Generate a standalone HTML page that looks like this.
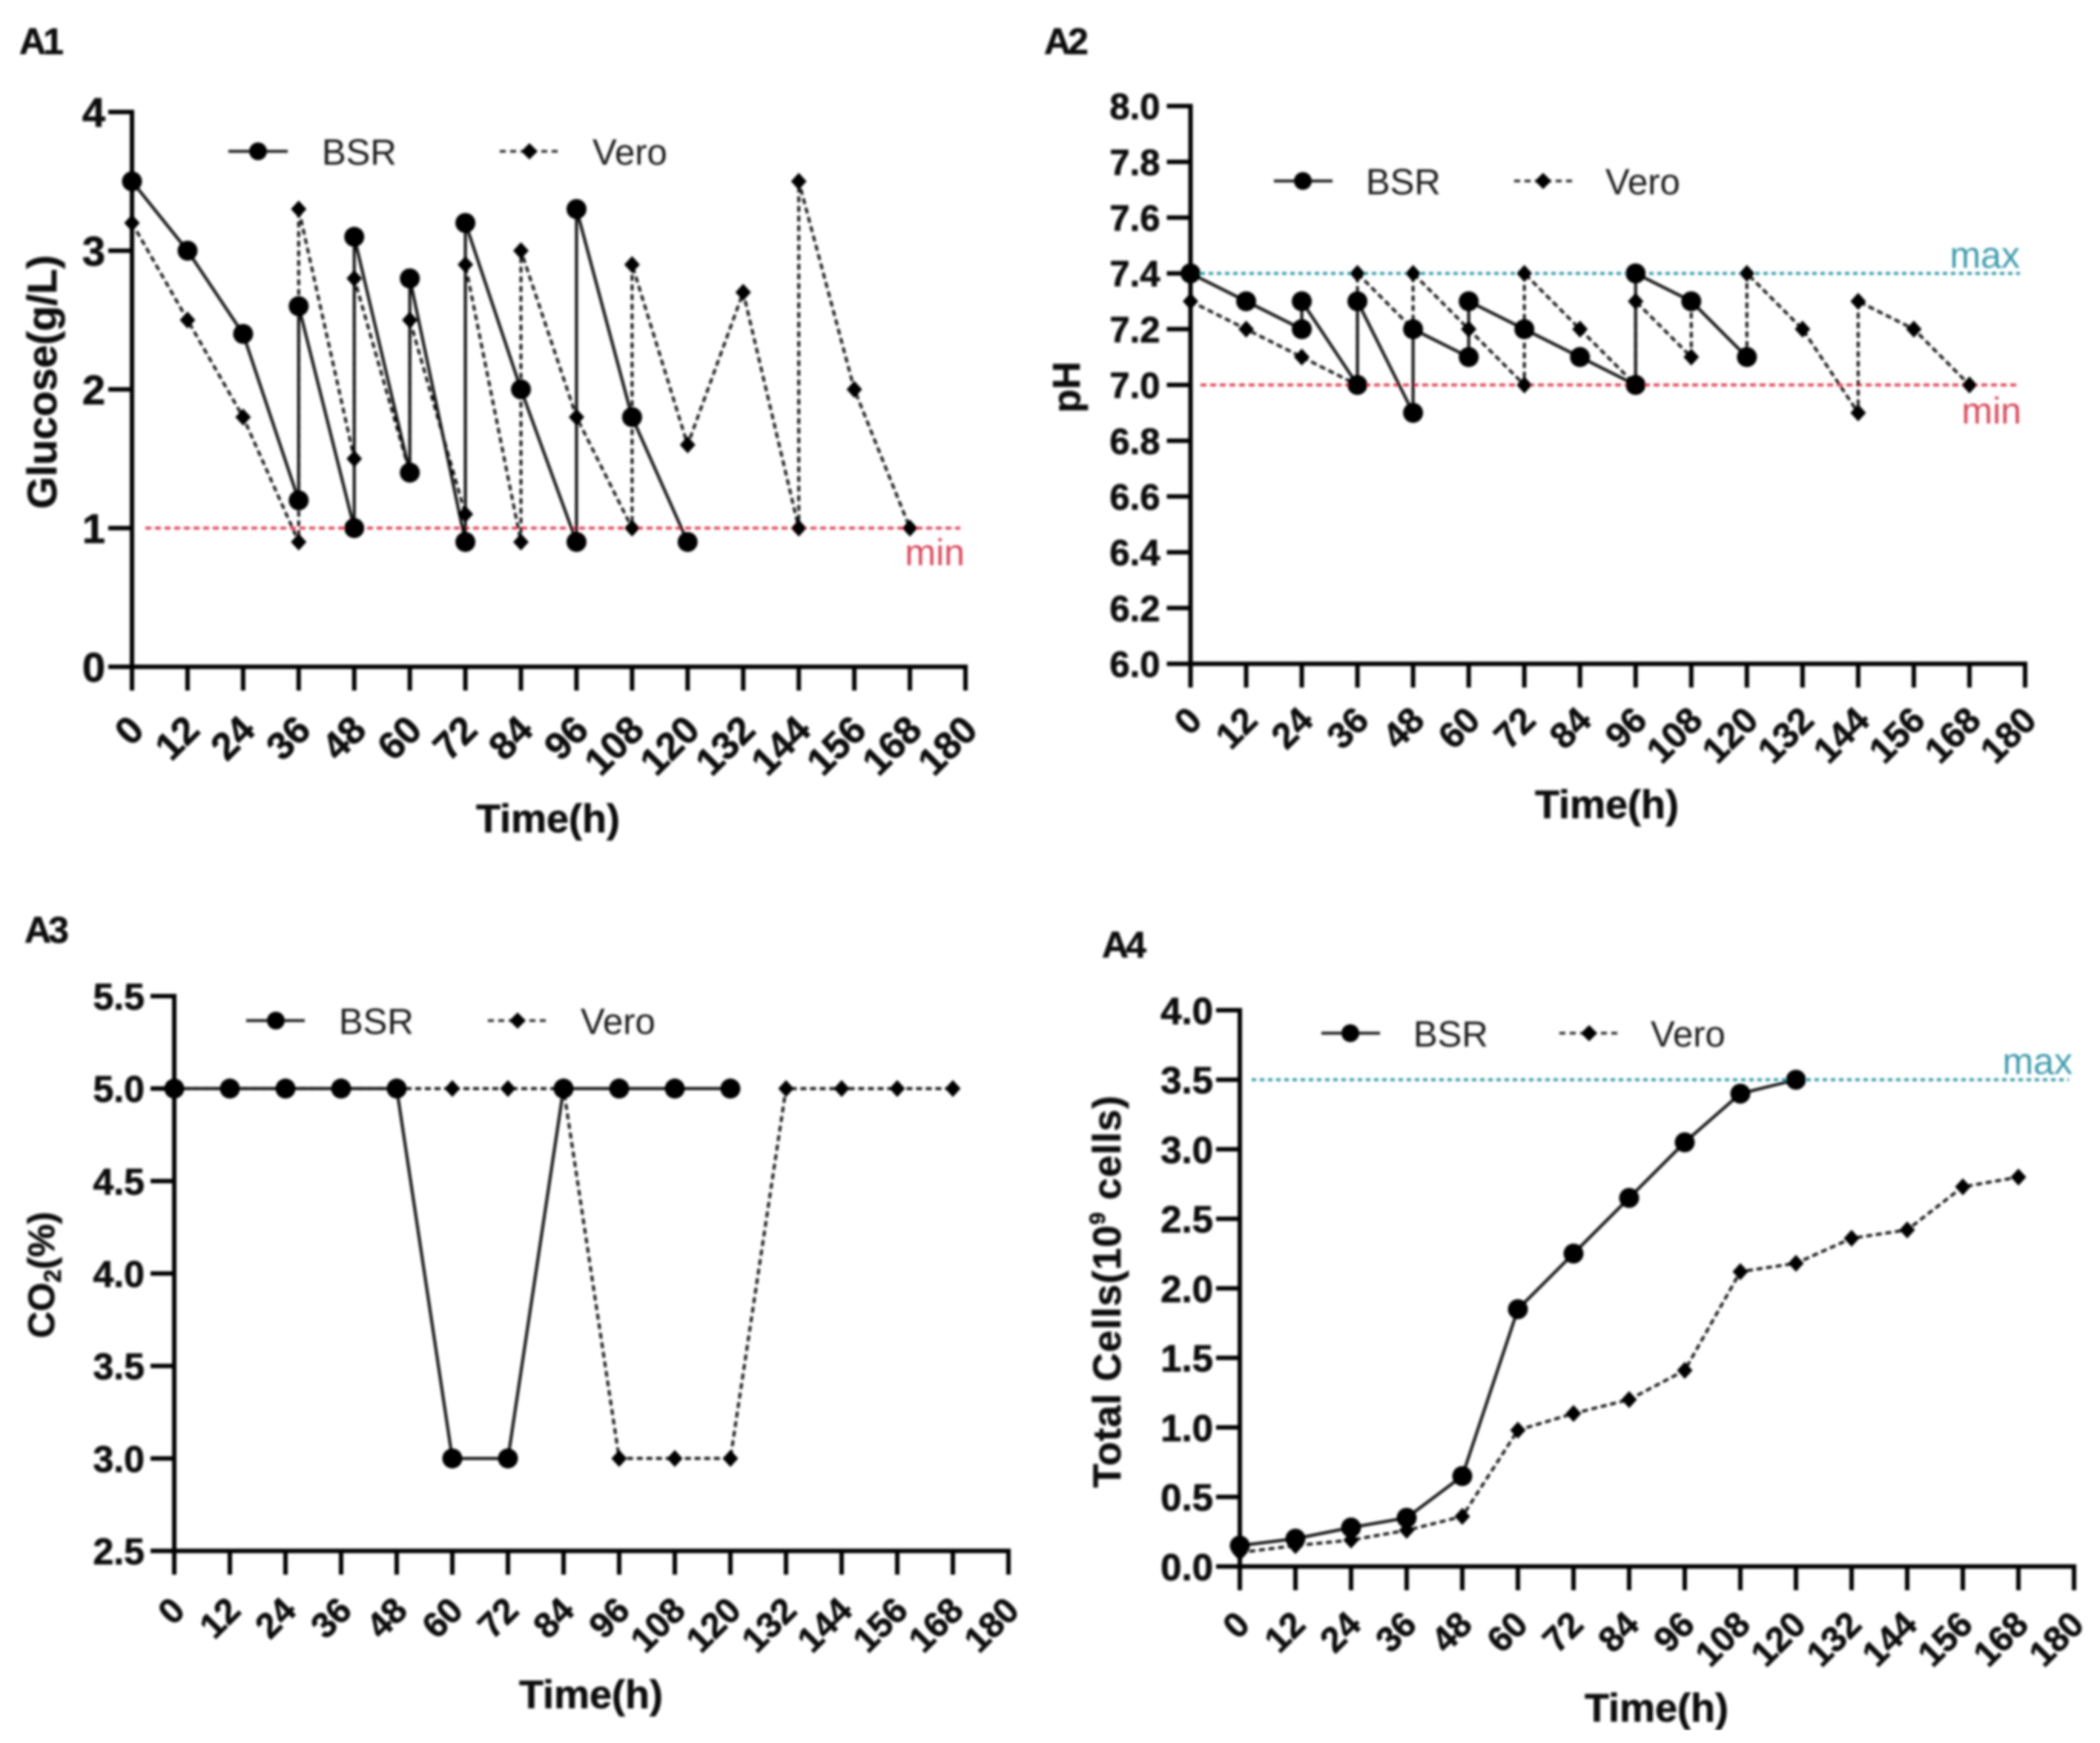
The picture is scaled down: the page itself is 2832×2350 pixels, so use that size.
<!DOCTYPE html>
<html lang="en">
<head>
<meta charset="utf-8">
<title>Bioreactor time-course panels</title>
<style>
html,body{margin:0;padding:0;background:#fff;}
svg{display:block;font-family:"Liberation Sans",Arial,sans-serif;}
.panel-label{font-weight:700;font-size:50px;letter-spacing:-4px;fill:#111;stroke:#111;stroke-width:.6px;}
.axis-title{font-weight:700;fill:#111;stroke:#111;stroke-width:.6px;}
.legend-text{font-size:49px;fill:#1c1c1c;}
.note{font-size:50px;}
</style>
</head>
<body>
<svg id="figure" width="2832" height="2350" viewBox="0 0 2832 2350" xmlns="http://www.w3.org/2000/svg">
<defs><filter id="soft" x="0" y="0" width="100%" height="100%"><feGaussianBlur stdDeviation="1.5"/></filter></defs>
<rect width="2832" height="2350" fill="#fff"/>
<g filter="url(#soft)">
<g id="static">
  <text class="panel-label" x="26" y="73">A1</text>
  <text class="panel-label" x="1408" y="73">A2</text>
  <text class="panel-label" x="33" y="1271">A3</text>
  <text class="panel-label" x="1486" y="1291">A4</text>

  <text class="axis-title" font-size="56" text-anchor="middle" transform="translate(76,515) rotate(-90)">Glucose(g/L)</text>
  <text class="axis-title" font-size="52" text-anchor="middle" transform="translate(1456,522) rotate(-90)">pH</text>
  <text class="axis-title" font-size="50" text-anchor="middle" transform="translate(73,1719) rotate(-90)">CO<tspan font-size="32" dy="9">2</tspan><tspan dy="-9">(%)</tspan></text>
  <text class="axis-title" font-size="53" letter-spacing="1" text-anchor="middle" transform="translate(1511,1741) rotate(-90)">Total Cells(10<tspan font-size="30" dy="-21">9</tspan><tspan dy="21"> cells)</tspan></text>

  <text class="axis-title" font-size="54" text-anchor="middle" x="739" y="1122">Time(h)</text>
  <text class="axis-title" font-size="54" text-anchor="middle" x="2167" y="1103">Time(h)</text>
  <text class="axis-title" font-size="54" text-anchor="middle" x="797" y="2303">Time(h)</text>
  <text class="axis-title" font-size="54" text-anchor="middle" x="2234" y="2321">Time(h)</text>

  <text class="note" fill="#d8485c" text-anchor="end" x="1301" y="762">min</text>
  <text class="note" fill="#3f9bac" text-anchor="end" x="2724" y="361">max</text>
  <text class="note" fill="#d8485c" text-anchor="end" x="2726" y="571">min</text>
  <text class="note" fill="#3f9bac" text-anchor="end" x="2795" y="1448">max</text>

  <g>
    <line x1="308" x2="388" y1="204" y2="204" stroke="#222" stroke-width="4"/>
    <circle cx="348" cy="204" r="12" fill="#000"/>
    <text class="legend-text" x="434" y="222">BSR</text>
    <line x1="674" x2="755" y1="204" y2="204" stroke="#222" stroke-width="3.5" stroke-dasharray="8 6"/>
    <path d="M714 193 L725 204 L714 215 L703 204 Z" fill="#000"/>
    <text class="legend-text" x="799" y="222">Vero</text>
  </g>
  <g>
    <line x1="1718" x2="1797" y1="244" y2="244" stroke="#222" stroke-width="4"/>
    <circle cx="1757" cy="244" r="12" fill="#000"/>
    <text class="legend-text" x="1842" y="262">BSR</text>
    <line x1="2042" x2="2121" y1="244" y2="244" stroke="#222" stroke-width="3.5" stroke-dasharray="8 6"/>
    <path d="M2081 233 L2092 244 L2081 255 L2070 244 Z" fill="#000"/>
    <text class="legend-text" x="2165" y="262">Vero</text>
  </g>
  <g>
    <line x1="332" x2="411" y1="1376" y2="1376" stroke="#222" stroke-width="4"/>
    <circle cx="372" cy="1376" r="12" fill="#000"/>
    <text class="legend-text" x="457" y="1394">BSR</text>
    <line x1="658" x2="739" y1="1376" y2="1376" stroke="#222" stroke-width="3.5" stroke-dasharray="8 6"/>
    <path d="M698 1365 L709 1376 L698 1387 L687 1376 Z" fill="#000"/>
    <text class="legend-text" x="783" y="1394">Vero</text>
  </g>
  <g>
    <line x1="1782" x2="1861" y1="1393" y2="1393" stroke="#222" stroke-width="4"/>
    <circle cx="1821" cy="1393" r="12" fill="#000"/>
    <text class="legend-text" x="1906" y="1411">BSR</text>
    <line x1="2103" x2="2183" y1="1393" y2="1393" stroke="#222" stroke-width="3.5" stroke-dasharray="8 6"/>
    <path d="M2143 1382 L2154 1393 L2143 1404 L2132 1393 Z" fill="#000"/>
    <text class="legend-text" x="2226" y="1411">Vero</text>
  </g>
</g>
<g id="charts"></g>
</g>
</svg>
<script>
// Shared x axis
const timeTickLabels = ['0','12','24','36','48','60','72','84','96','108','120','132','144','156','168','180'];

// A1 glucose
const a1YTickLabels = ['0','1','2','3','4'];
const a1BsrTimes = [0,12,24,36,36,48,48,60,60,72,72,84,96,96,108,120];
const a1BsrValues = [3.5,3,2.4,1.2,2.6,1,3.1,1.4,2.8,0.9,3.2,2,0.9,3.3,1.8,0.9];
const a1VeroTimes = [0,12,24,36,36,48,48,60,60,72,72,84,84,96,108,108,120,132,144,144,156,168];
const a1VeroValues = [3.2,2.5,1.8,0.9,3.3,1.5,2.8,1.4,2.5,1.1,2.9,0.9,3,1.8,1,2.9,1.6,2.7,1,3.5,2,1];
const a1MinLine = [1];
const a1MaxLine = [];

// A2 pH
const a2YTickLabels = ['6.0','6.2','6.4','6.6','6.8','7.0','7.2','7.4','7.6','7.8','8.0'];
const a2BsrTimes = [0,12,24,24,36,36,48,48,60,60,72,84,96,96,108,120];
const a2BsrValues = [7.4,7.3,7.2,7.3,7.0,7.3,6.9,7.2,7.1,7.3,7.2,7.1,7.0,7.4,7.3,7.1];
const a2VeroTimes = [0,12,24,36,36,48,48,60,72,72,84,96,96,108,108,120,120,132,144,144,156,168];
const a2VeroValues = [7.3,7.2,7.1,7.0,7.4,7.2,7.4,7.2,7.0,7.4,7.2,7.0,7.3,7.1,7.3,7.1,7.4,7.2,6.9,7.3,7.2,7.0];
const a2MinLine = [7.0];
const a2MaxLine = [7.4];

// A3 CO2
const a3YTickLabels = ['2.5','3.0','3.5','4.0','4.5','5.0','5.5'];
const a3BsrTimes = [0,12,24,36,48,60,72,84,96,108,120];
const a3BsrValues = [5,5,5,5,5,3,3,5,5,5,5];
const a3VeroTimes = [0,12,24,36,48,60,72,84,96,108,120,132,144,156,168];
const a3VeroValues = [5,5,5,5,5,5,5,5,3,3,3,5,5,5,5];
const a3MinLine = [];
const a3MaxLine = [];

// A4 total cells
const a4YTickLabels = ['0.0','0.5','1.0','1.5','2.0','2.5','3.0','3.5','4.0'];
const a4BsrTimes = [0,12,24,36,48,60,72,84,96,108,120];
const a4BsrValues = [0.15,0.2,0.28,0.35,0.65,1.85,2.25,2.65,3.05,3.4,3.5];
const a4VeroTimes = [0,12,24,36,48,60,72,84,96,108,120,132,144,156,168];
const a4VeroValues = [0.1,0.15,0.19,0.26,0.36,0.98,1.1,1.2,1.41,2.12,2.18,2.36,2.42,2.73,2.8];
const a4MinLine = [];
const a4MaxLine = [3.5];

const SVG_NS = 'http://www.w3.org/2000/svg';
const root = document.getElementById('charts');

function make(tag, parent) {
  const el = document.createElementNS(SVG_NS, tag);
  parent.appendChild(el);
  return el;
}

function drawPanel(id, box, yLabels, bsrT, bsrV, veroT, veroV, minLine, maxLine) {
  const g = make('g', root);
  
  

  const xNums = timeTickLabels.map(Number);
  const yNums = yLabels.map(Number);
  const xMin = xNums[0], xMax = xNums[xNums.length - 1];
  const yMin = yNums[0], yMax = yNums[yNums.length - 1];
  const sx = v => box.x0 + (v - xMin) / (xMax - xMin) * (box.x1 - box.x0);
  const sy = v => box.y0 - (v - yMin) / (yMax - yMin) * (box.y0 - box.y1);

  // threshold lines
  minLine.forEach(v => {
    const l = make('line', g);
    
    
    l.setAttribute('x1', box.refX0);
    l.setAttribute('x2', box.refX1);
    l.setAttribute('y1', sy(v));
    l.setAttribute('y2', sy(v));
    l.setAttribute('stroke', '#e0485f');
    l.setAttribute('stroke-width', 4);
    l.setAttribute('stroke-dasharray', '8 5');
  });
  maxLine.forEach(v => {
    const l = make('line', g);
    
    
    l.setAttribute('x1', box.refX0);
    l.setAttribute('x2', box.refX1);
    l.setAttribute('y1', sy(v));
    l.setAttribute('y2', sy(v));
    l.setAttribute('stroke', '#3a9ba8');
    l.setAttribute('stroke-width', 4);
    l.setAttribute('stroke-dasharray', '6 5');
  });

  // axes
  const yAxis = make('line', g);
  
  
  yAxis.setAttribute('x1', box.x0);
  yAxis.setAttribute('x2', box.x0);
  yAxis.setAttribute('y1', box.y1 - 3);
  yAxis.setAttribute('y2', box.y0 + 32);
  yAxis.setAttribute('stroke', '#000');
  yAxis.setAttribute('stroke-width', 6);

  const xAxis = make('line', g);
  
  
  xAxis.setAttribute('x1', box.x0 - 32);
  xAxis.setAttribute('x2', box.x1 + 3);
  xAxis.setAttribute('y1', box.y0);
  xAxis.setAttribute('y2', box.y0);
  xAxis.setAttribute('stroke', '#000');
  xAxis.setAttribute('stroke-width', 6);

  // y ticks
  yLabels.forEach((label, i) => {
    const y = sy(yNums[i]);
    const t = make('line', g);
    
    
    t.setAttribute('x1', box.x0 - 32);
    t.setAttribute('x2', box.x0);
    t.setAttribute('y1', y);
    t.setAttribute('y2', y);
    t.setAttribute('stroke', '#000');
    t.setAttribute('stroke-width', 6);

    const txt = make('text', g);
    
    
    txt.setAttribute('x', box.x0 - box.yLabelGap);
    txt.setAttribute('y', y + box.yFont * 0.36);
    txt.setAttribute('text-anchor', 'end');
    txt.setAttribute('font-size', box.yFont);
    txt.setAttribute('font-weight', '700');
    txt.setAttribute('fill', '#111');
    txt.setAttribute('stroke', '#111');
    txt.setAttribute('stroke-width', 0.7);
    txt.textContent = label;
  });

  // x ticks
  timeTickLabels.forEach((label, i) => {
    const x = sx(xNums[i]);
    const t = make('line', g);
    
    
    t.setAttribute('x1', x);
    t.setAttribute('x2', x);
    t.setAttribute('y1', box.y0);
    t.setAttribute('y2', box.y0 + 32);
    t.setAttribute('stroke', '#000');
    t.setAttribute('stroke-width', 6);

    const txt = make('text', g);
    
    
    txt.setAttribute('text-anchor', 'end');
    txt.setAttribute('font-size', box.xFont);
    txt.setAttribute('font-weight', '700');
    txt.setAttribute('fill', '#111');
    txt.setAttribute('stroke', '#111');
    txt.setAttribute('stroke-width', 0.7);
    txt.setAttribute('transform', 'translate(' + (x + box.xDx) + ',' + (box.y0 + box.xDy) + ') rotate(-45)');
    txt.textContent = label;
  });

  // Vero series
  const veroPts = veroT.map((t, i) => sx(t) + ',' + sy(veroV[i])).join(' ');
  const veroLine = make('polyline', g);
  
  
  veroLine.setAttribute('points', veroPts);
  veroLine.setAttribute('fill', 'none');
  veroLine.setAttribute('stroke', '#111');
  veroLine.setAttribute('stroke-width', 3.8);
  veroLine.setAttribute('stroke-dasharray', '8 5');

  // BSR series
  const bsrPts = bsrT.map((t, i) => sx(t) + ',' + sy(bsrV[i])).join(' ');
  const bsrLine = make('polyline', g);
  
  
  bsrLine.setAttribute('points', bsrPts);
  bsrLine.setAttribute('fill', 'none');
  bsrLine.setAttribute('stroke', '#111');
  bsrLine.setAttribute('stroke-width', 4);

  veroT.forEach((t, i) => {
    const cx = sx(t), cy = sy(veroV[i]), r = 11.5;
    const d = make('path', g);
    
    
    d.setAttribute('d', 'M' + cx + ' ' + (cy - r) + ' L' + (cx + r - 1) + ' ' + cy + ' L' + cx + ' ' + (cy + r) + ' L' + (cx - r + 1) + ' ' + cy + ' Z');
    d.setAttribute('fill', '#000');
  });
  bsrT.forEach((t, i) => {
    const c = make('circle', g);
    
    
    c.setAttribute('cx', sx(t));
    c.setAttribute('cy', sy(bsrV[i]));
    c.setAttribute('r', 13.5);
    c.setAttribute('fill', '#000');
  });
}

drawPanel('a1', {x0:178, x1:1302, y0:899, y1:151, refX0:196, refX1:1295, yFont:56, xFont:52, yLabelGap:36, xDx:19, xDy:88},
  a1YTickLabels, a1BsrTimes, a1BsrValues, a1VeroTimes, a1VeroValues, a1MinLine, a1MaxLine);
drawPanel('a2', {x0:1605.5, x1:2731, y0:895, y1:143, refX0:1619, refX1:2724, yFont:49, xFont:49, yLabelGap:41, xDx:18, xDy:79},
  a2YTickLabels, a2BsrTimes, a2BsrValues, a2VeroTimes, a2VeroValues, a2MinLine, a2MaxLine);
drawPanel('a3', {x0:235, x1:1360, y0:2091, y1:1343, refX0:235, refX1:235, yFont:50, xFont:48, yLabelGap:40, xDx:17, xDy:83},
  a3YTickLabels, a3BsrTimes, a3BsrValues, a3VeroTimes, a3VeroValues, a3MinLine, a3MaxLine);
drawPanel('a4', {x0:1672, x1:2797, y0:2112, y1:1362, refX0:1688, refX1:2790, yFont:51, xFont:48, yLabelGap:36, xDx:16, xDy:81},
  a4YTickLabels, a4BsrTimes, a4BsrValues, a4VeroTimes, a4VeroValues, a4MinLine, a4MaxLine);
</script>
</body>
</html>
